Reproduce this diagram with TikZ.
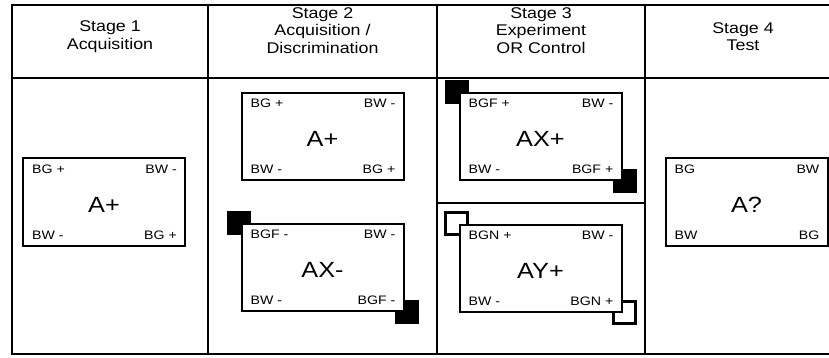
\documentclass[tikz,border=0pt]{standalone}
\usepackage{fontspec}
\setmainfont{Liberation Sans}
\newfontfamily\widesans{Liberation Sans}[FakeStretch=1.15]
\usetikzlibrary{backgrounds}

% A stimulus card: frame, four corner tags and a central label
\newcommand\stimcard[7]{%
  \node[card] (#1) at (#2) {};
  \node[tag, anchor=west] (#1-tl) at ([xshift=10pt,yshift=-11.5pt]#1.north west) {#3};
  \node[tag, anchor=east] (#1-tr) at ([xshift=-9pt,yshift=-11.5pt]#1.north east) {#4};
  \node[tag, anchor=west] (#1-bl) at ([xshift=10pt,yshift=11.5pt]#1.south west) {#5};
  \node[tag, anchor=east] (#1-br) at ([xshift=-9pt,yshift=11.5pt]#1.south east) {#6};
  \node[big] (#1-c) at ([yshift=-2.5pt]#1.center) {#7};
}

\begin{document}
\begin{tikzpicture}[x=1pt,y=-1pt,
  gridline/.style={line width=2.4pt},
  card/.style={draw, line width=2pt, fill=white, minimum width=162pt,
    minimum height=87pt, inner sep=0pt},
  tag/.style={font=\widesans\fontsize{12.3}{14}\selectfont, inner sep=0pt},
  big/.style={font=\widesans\fontsize{22}{26}\selectfont, inner sep=0pt},
  head/.style={font=\widesans\fontsize{15.5}{17.5}\selectfont, align=center, inner sep=0pt},
  darksq/.style={fill=black, minimum size=24pt, inner sep=0pt},
  lightsq/.style={draw, line width=2.2pt, fill=white, minimum size=22pt, inner sep=0pt}]

\clip (0,0) rectangle (829,358);

% table frame
\draw[gridline] (12,5) rectangle (841,354);
\draw[gridline] (12,78) -- (841,78);
\draw[gridline] (208,5) -- (208,354);
\draw[gridline] (437,5) -- (437,354);
\draw[gridline] (645,5) -- (645,354);
\draw[gridline] (437,203) -- (645,203);

% column headings
\node[head] (h1) at (110,36.5) {Stage 1\\Acquisition};
\node[head] (h2) at (322.5,30.5) {Stage 2\\Acquisition /\\Discrimination};
\node[head] (h3) at (541,30.5) {Stage 3\\Experiment\\OR Control};
\node[head] (h4) at (743,36.5) {Stage 4\\Test};

% cards
\stimcard{s1}{104,202}{BG +}{BW -}{BW -}{BG +}{A+}
\stimcard{s2a}{322.5,136.5}{BG +}{BW -}{BW -}{BG +}{A+}
\stimcard{s2b}{322.5,267.5}{BGF -}{BW -}{BW -}{BGF -}{AX-}
\stimcard{s3a}{540.5,136.5}{BGF +}{BW -}{BW -}{BGF +}{AX+}
\stimcard{s3b}{540.5,268}{BGN +}{BW -}{BW -}{BGN +}{AY+}
\stimcard{s4}{746.5,202}{BG}{BW}{BW}{BG}{A?}

% corner markers behind the cards
\begin{scope}[on background layer]
  \node[darksq] (s2b-q1) at ([xshift=-2pt]s2b.north west) {};
  \node[darksq] (s2b-q2) at ([xshift=2pt]s2b.south east) {};
  \node[darksq] (s3a-q1) at ([xshift=-2pt]s3a.north west) {};
  \node[darksq] (s3a-q2) at ([xshift=2pt]s3a.south east) {};
  \node[lightsq] (s3b-q1) at ([xshift=-2pt]s3b.north west) {};
  \node[lightsq] (s3b-q2) at ([xshift=2pt]s3b.south east) {};
\end{scope}
\end{tikzpicture}
\end{document}
